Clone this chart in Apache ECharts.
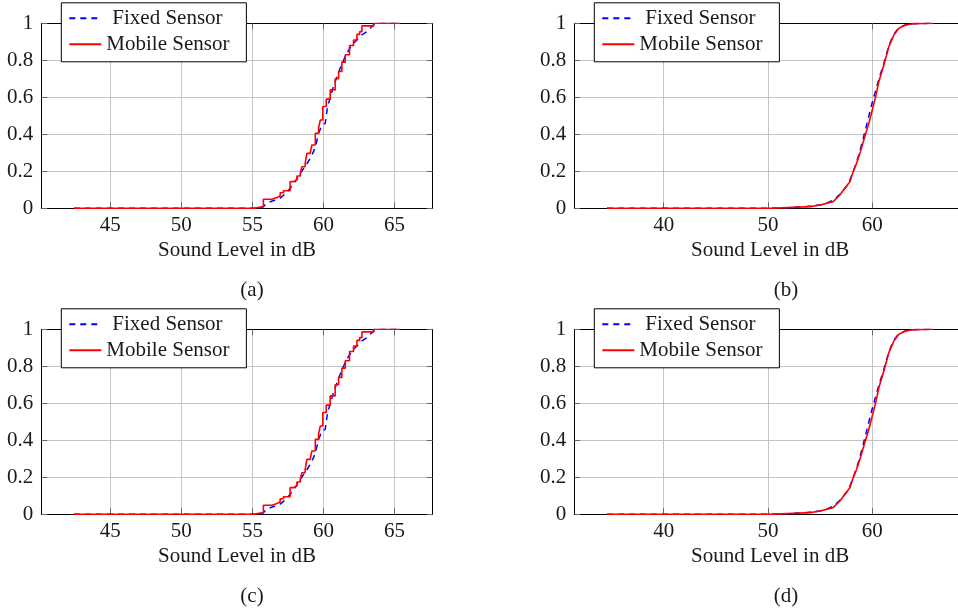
<!DOCTYPE html>
<html><head><meta charset="utf-8">
<script src="https://cdn.jsdelivr.net/npm/echarts@6/dist/echarts.min.js"></script>
<style>html,body{margin:0;padding:0;background:#fff}#c{width:958px;height:613px}</style>
</head><body><div id="c"></div><script>
// ---- Data ----
const seriesNames = ['Fixed Sensor', 'Mobile Sensor'];
const xAxisTitle = 'Sound Level in dB';
const captions = ['(a)', '(b)', '(c)', '(d)'];
const ticksNarrow = [45, 50, 55, 60, 65];
const ticksWide = [40, 50, 60];
const yTicks = [0, 0.2, 0.4, 0.6, 0.8, 1];

// Panel (a)/(c): few samples, step-like CDF
const fixedA_level = [42.44, 55.65, 55.77, 56.0, 56.43, 56.83, 57.3, 57.65, 58.0, 58.36, 58.78, 59.06, 59.3, 59.48, 59.65, 59.89, 60.12, 60.19, 60.28, 60.47, 60.7, 60.94, 61.17, 61.41, 61.64, 62.0, 62.35, 62.7, 63.05, 63.29, 63.52, 63.76, 65.37];
const fixedA_cdf   = [0, 0, 0.006, 0.027, 0.041, 0.048, 0.077, 0.108, 0.144, 0.189, 0.234, 0.27, 0.306, 0.348, 0.405, 0.45, 0.459, 0.495, 0.55, 0.595, 0.66, 0.71, 0.757, 0.8, 0.838, 0.883, 0.91, 0.937, 0.955, 0.973, 0.99, 1, 1];
const mobileA_level = [42.44, 55.07, 55.77, 56.37, 56.72, 56.95, 57.18, 57.65, 57.89, 58.13, 58.36, 58.48, 58.71, 58.83, 59.06, 59.18, 59.42, 59.65, 59.77, 59.95, 60.19, 60.47, 60.82, 61.06, 61.29, 61.53, 61.83, 62.11, 62.35, 62.54, 62.7, 63.52, 65.37];
const mobileA_cdf   = [0, 0.009, 0.049, 0.059, 0.066, 0.084, 0.095, 0.144, 0.153, 0.175, 0.189, 0.225, 0.243, 0.297, 0.306, 0.342, 0.405, 0.432, 0.477, 0.55, 0.59, 0.64, 0.7, 0.74, 0.79, 0.83, 0.88, 0.91, 0.94, 0.955, 0.986, 1, 1];

// Panel (b)/(d): many samples, smooth CDF
const fixedB_level = [34.55, 50.2, 51.8, 53.5, 55.3, 56.3, 57.0, 57.7, 58.2, 58.7, 59.15, 59.55, 59.9, 60.25, 60.6, 61.1, 61.55, 62.0, 62.5, 63.1, 63.9, 65.87];
const fixedB_cdf   = [0, 0, 0.003, 0.008, 0.02, 0.045, 0.08, 0.13, 0.2, 0.285, 0.38, 0.47, 0.55, 0.62, 0.69, 0.78, 0.87, 0.935, 0.972, 0.99, 0.998, 1];
const mobileB_level = [34.55, 50.22, 54.07, 55.0, 56.25, 56.9, 57.37, 57.86, 58.17, 58.5, 58.82, 59.2, 59.68, 60.0, 60.32, 60.64, 61.12, 61.6, 62.08, 62.56, 63.2, 64.0, 65.87];
const mobileB_cdf   = [0, 0, 0.009, 0.018, 0.036, 0.072, 0.108, 0.144, 0.198, 0.243, 0.297, 0.37, 0.46, 0.53, 0.6, 0.685, 0.775, 0.874, 0.937, 0.973, 0.991, 0.998, 1];

// ---- Layout ----
const FONT = 'Liberation Serif';
const FS = 21;
const zip = (a, b) => a.map((v, i) => [v, b[i]]);
const setA = { fixed: zip(fixedA_level, fixedA_cdf), mobile: zip(mobileA_level, mobileA_cdf), mobileStep: 'end' };
const setB = { fixed: zip(fixedB_level, fixedB_cdf), mobile: zip(mobileB_level, mobileB_cdf), mobileStep: false };

const panels = [
  { left: 41.3, top: 23.3, width: 391.4, xmin: 40.15, xmax: 67.68, ticks: ticksNarrow, set: setA, capX: 252, capY: 290 },
  { left: 574.3, top: 23.3, width: 391.7, xmin: 31.42, xmax: 69.0, ticks: ticksWide, set: setB, capX: 786, capY: 290 },
  { left: 41.3, top: 329.3, width: 391.4, xmin: 40.15, xmax: 67.68, ticks: ticksNarrow, set: setA, capX: 252, capY: 596 },
  { left: 574.3, top: 329.3, width: 391.7, xmin: 31.42, xmax: 69.0, ticks: ticksWide, set: setB, capX: 786, capY: 596 }
];
const H = 185;

const grid = [], xAxis = [], yAxis = [], series = [], legend = [], graphic = [];
const tickStyle = { color: '#666', width: 1 };
const axisLineStyle = { color: '#000', width: 1 };
panels.forEach((p, i) => {
  grid.push({ left: p.left, top: p.top, width: p.width, height: H, containLabel: false, outerBoundsMode: 'none' });
  xAxis.push({
    gridIndex: i, type: 'value', position: 'bottom', min: p.xmin, max: p.xmax,
    axisLine: { show: true, onZero: false, lineStyle: axisLineStyle },
    axisTick: { show: true, inside: true, length: 6, customValues: p.ticks, lineStyle: tickStyle },
    axisLabel: { show: true, customValues: p.ticks, margin: 7, color: '#1a1a1a', fontFamily: FONT, fontSize: FS },
    splitLine: { show: true, lineStyle: { color: '#c4c4c4', width: 1 } },
    name: xAxisTitle, nameLocation: 'middle', nameGap: 32,
    nameTextStyle: { color: '#1a1a1a', fontFamily: FONT, fontSize: FS }
  });
  xAxis.push({
    gridIndex: i, type: 'value', position: 'top', min: p.xmin, max: p.xmax,
    axisLine: { show: true, onZero: false, lineStyle: axisLineStyle },
    axisTick: { show: true, inside: true, length: 6, customValues: p.ticks, lineStyle: tickStyle },
    axisLabel: { show: false }, splitLine: { show: false }
  });
  yAxis.push({
    gridIndex: i, type: 'value', position: 'left', min: 0, max: 1, interval: 0.2,
    axisLine: { show: true, onZero: false, lineStyle: axisLineStyle },
    axisTick: { show: true, inside: true, length: 6, lineStyle: tickStyle },
    axisLabel: { show: true, margin: 8, color: '#1a1a1a', fontFamily: FONT, fontSize: FS },
    splitLine: { show: true, lineStyle: { color: '#c4c4c4', width: 1 } }
  });
  yAxis.push({
    gridIndex: i, type: 'value', position: 'right', min: 0, max: 1, interval: 0.2,
    axisLine: { show: true, onZero: false, lineStyle: axisLineStyle },
    axisTick: { show: true, inside: true, length: 6, lineStyle: tickStyle },
    axisLabel: { show: false }, splitLine: { show: false }
  });
  series.push({
    type: 'line', name: seriesNames[0], xAxisIndex: 2 * i, yAxisIndex: 2 * i,
    data: p.set.fixed, symbol: 'none', clip: true, z: 3,
    lineStyle: { color: '#0000ff', width: 1.5, type: [6, 5] }, itemStyle: { color: '#0000ff' }
  });
  series.push({
    type: 'line', name: seriesNames[1], xAxisIndex: 2 * i, yAxisIndex: 2 * i,
    data: p.set.mobile, step: p.set.mobileStep, symbol: 'none', clip: true, z: 4,
    lineStyle: { color: '#ff0000', width: 1.6 }, itemStyle: { color: '#ff0000' }
  });
  legend.push({
    left: p.left + 20, top: p.top - 20.5, orient: 'vertical', data: seriesNames,
    selectedMode: false, borderColor: '#000', borderWidth: 1, borderRadius: 0, backgroundColor: '#fff',
    padding: [5, 17, 7, 7], itemGap: 5, itemWidth: 32, itemHeight: 14,
    itemStyle: { opacity: 0, borderWidth: 0 },
    formatter: name => name === seriesNames[0] ? '{p|' + name + '}' : name,
    textStyle: {
      fontFamily: FONT, fontSize: FS, color: '#1a1a1a', lineHeight: 20,
      rich: { p: { fontFamily: FONT, fontSize: FS, color: '#1a1a1a', lineHeight: 20, padding: [0, 0, 0, 6] } }
    }, z: 10
  });
  graphic.push({
    type: 'text', x: p.capX, y: p.capY,
    style: { text: captions[i], fontFamily: FONT, fontSize: FS, fill: '#1a1a1a', align: 'center', verticalAlign: 'middle' }
  });
});

const chart = echarts.init(document.getElementById('c'), null, { renderer: 'canvas' });
chart.setOption({ animation: false, backgroundColor: '#fff', grid, xAxis, yAxis, series, legend, graphic });
</script></body></html>
